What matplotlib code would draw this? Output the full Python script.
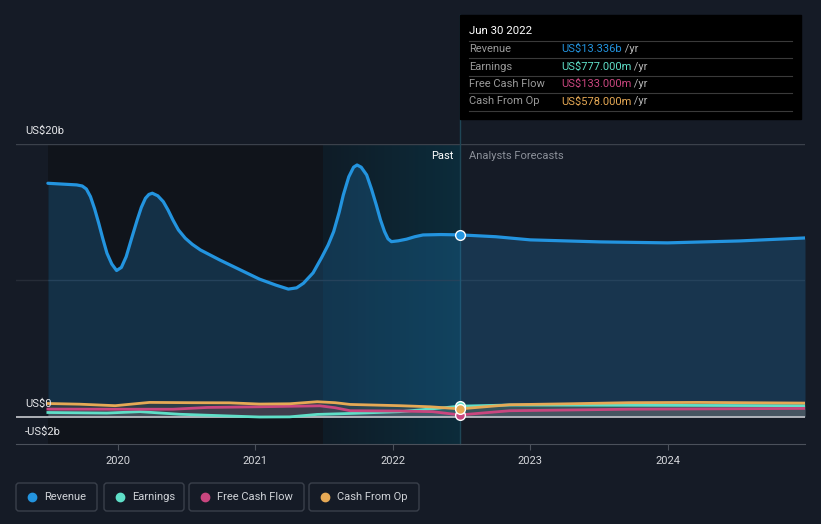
import numpy as np
import matplotlib
matplotlib.use('Agg')
import matplotlib.pyplot as plt
from matplotlib.patches import FancyBboxPatch, Rectangle
from matplotlib.colors import LinearSegmentedColormap

plt.rcParams['font.family'] = ['Roboto', 'DejaVu Sans']

# values in US$ billions, time in decimal years
rev_t = [2019.49, 2019.70, 2019.74, 2019.77, 2019.80, 2019.83, 2019.86, 2019.89, 2019.92, 2019.955,
         2019.99, 2020.025, 2020.06, 2020.10, 2020.14, 2020.17, 2020.20, 2020.225, 2020.25, 2020.29,
         2020.33, 2020.365, 2020.40, 2020.44, 2020.49, 2020.54, 2020.60, 2020.74, 2020.89, 2021.03,
         2021.15, 2021.24, 2021.30, 2021.35, 2021.42, 2021.48, 2021.53, 2021.57, 2021.61, 2021.64,
         2021.68, 2021.715, 2021.74, 2021.77, 2021.81, 2021.845, 2021.88, 2021.91, 2021.94, 2021.965,
         2021.99, 2022.04, 2022.10, 2022.16, 2022.22, 2022.35, 2022.49,
         2022.75, 2023.00, 2023.51, 2024.00, 2024.52, 2025.00]
rev_v = [17.12, 17.00, 16.92, 16.70, 16.14, 15.25, 14.19, 13.05, 11.99, 11.20,
         10.72, 10.95, 11.74, 13.10, 14.43, 15.35, 16.02, 16.30, 16.39, 16.20,
         15.77, 15.15, 14.43, 13.70, 13.09, 12.65, 12.23, 11.50, 10.77, 10.09,
         9.65, 9.36, 9.45, 9.79, 10.55, 11.63, 12.60, 13.58, 15.00, 16.26,
         17.60, 18.30, 18.46, 18.30, 17.73, 16.70, 15.53, 14.45, 13.58, 13.05,
         12.84, 12.90, 13.02, 13.20, 13.33, 13.36, 13.336,
         13.20, 12.97, 12.82, 12.75, 12.89, 13.11]

cfo_t = [2019.49, 2019.72, 2019.98, 2020.23, 2020.52, 2020.81, 2021.03, 2021.25, 2021.45, 2021.58,
         2021.69, 2022.05, 2022.27, 2022.49, 2022.85, 2023.29, 2023.72, 2024.23, 2025.00]
cfo_v = [0.97, 0.92, 0.81, 1.05, 1.03, 1.02, 0.93, 0.95, 1.10, 1.03,
         0.90, 0.81, 0.73, 0.578, 0.88, 0.95, 1.03, 1.05, 1.00]

fcf_t = [2019.49, 2019.94, 2020.40, 2020.65, 2021.03, 2021.47, 2021.58, 2021.69, 2022.05, 2022.29,
         2022.49, 2022.85, 2023.72, 2025.00]
fcf_v = [0.56, 0.55, 0.55, 0.68, 0.73, 0.80, 0.66, 0.44, 0.42, 0.37,
         0.133, 0.44, 0.55, 0.61]

earn_t = [2019.49, 2019.92, 2020.16, 2020.45, 2020.65, 2021.03, 2021.25, 2021.45, 2021.69, 2022.05,
          2022.32, 2022.49, 2022.85, 2023.72, 2025.00]
earn_v = [0.31, 0.27, 0.37, 0.18, 0.11, -0.02, -0.01, 0.17, 0.24, 0.37,
          0.61, 0.777, 0.86, 0.84, 0.81]

now_t = 2022.49
past_start = 2021.49
series_names = ['Revenue', 'Earnings', 'Free Cash Flow', 'Cash From Op']
tip_values = ['US$13.336b', 'US$777.000m', 'US$133.000m', 'US$578.000m']
year_ticks = [2020, 2021, 2022, 2023, 2024]

BG = '#151b26'
C_REV = '#2394df'
C_EARN = '#5fdfc8'
C_FCF = '#c9467f'
C_CFO = '#e6a955'

fig = plt.figure(figsize=(8.21, 5.24), dpi=100)
fig.patch.set_facecolor(BG)
ax = fig.add_axes([16 / 821, 80 / 524, 789 / 821, 300 / 524])
ax.set_facecolor(BG)
ax.set_xlim(2019.258, 2025.0)
ax.set_ylim(-2, 20)

# background bands
ax.axvspan(rev_t[0], past_start, color='#10141b', zorder=0, lw=0)
grad = LinearSegmentedColormap.from_list('g', ['#0f1c27', '#0c2c3b'])
ax.imshow(np.linspace(0, 1, 200).reshape(1, -1), cmap=grad, aspect='auto',
          extent=[past_start, now_t, -2, 20], zorder=0.5)

# gridlines
ax.axhline(20, color='#3b414b', lw=1, zorder=1)
ax.axhline(10, color='#262c37', lw=1, zorder=1)
ax.axhline(0, color='#b9bcc2', lw=1.3, zorder=4)
ax.axvline(now_t, ymin=0, ymax=(444 - 15) / 300, color='#1f4656', lw=1, zorder=1, clip_on=False)

# fills
ax.fill_between(rev_t, rev_v, 0, color=C_REV, alpha=0.22, lw=0, zorder=2)
for t, v, c in [(cfo_t, cfo_v, C_CFO), (fcf_t, fcf_v, C_FCF), (earn_t, earn_v, C_EARN)]:
    ax.fill_between(t, v, 0, color=c, alpha=0.12, lw=0, zorder=2)

# lines
ax.plot(rev_t, rev_v, color=C_REV, lw=2.3, zorder=5, solid_capstyle='round', solid_joinstyle='round')
ax.plot(earn_t, earn_v, color=C_EARN, lw=2, zorder=5, solid_joinstyle='round')
ax.plot(fcf_t, fcf_v, color=C_FCF, lw=2, zorder=5, solid_joinstyle='round')
ax.plot(cfo_t, cfo_v, color=C_CFO, lw=2, zorder=5, solid_joinstyle='round')

# markers at the current date
for t, v, c in [(rev_t, rev_v, C_REV), (earn_t, earn_v, C_EARN), (fcf_t, fcf_v, C_FCF), (cfo_t, cfo_v, C_CFO)]:
    i = t.index(now_t)
    ax.plot(t[i], v[i], 'o', ms=7, mfc=c, mec='white', mew=1, zorder=6)

# axes styling
for s in ['top', 'right', 'left']:
    ax.spines[s].set_visible(False)
ax.spines['bottom'].set_color('#4b515b')
ax.set_yticks([])
ax.set_xticks(year_ticks)
ax.set_xticklabels([str(y) for y in year_ticks])
ax.tick_params(axis='x', colors='#4b515b', labelcolor='#d5d7db', labelsize=8, length=4, pad=5)

# overlay in pixel coordinates
ov = fig.add_axes([0, 0, 1, 1], facecolor='none')
ov.set_xlim(0, 821)
ov.set_ylim(524, 0)
ov.axis('off')

ov.text(25, 131, 'US$20b', color='#e6e7ea', fontsize=8, va='center')
ov.text(25, 404, 'US$0', color='#e6e7ea', fontsize=8, va='center')
ov.text(25, 432, '-US$2b', color='#e6e7ea', fontsize=8, va='center')
ov.text(453, 156, 'Past', color='#ffffff', fontsize=8, va='center', ha='right')
ov.text(469, 156, 'Analysts Forecasts', color='#8b9099', fontsize=8, va='center')

# tooltip
ov.add_patch(Rectangle((460, 15), 341, 104, color='#000000', zorder=5))
ov.text(469, 31, 'Jun 30 2022', color='#ffffff', fontsize=8.2, va='center', zorder=6)
tip_colors = [C_REV, C_EARN, C_FCF, C_CFO]
for k in range(4):
    yy = 49 + k * 17.5
    ov.plot([469, 792], [yy - 8.5, yy - 8.5], color='#3a3a3a', lw=0.8, zorder=6)
    ov.text(469, yy, series_names[k], color='#9a9a9a', fontsize=8, va='center', zorder=6)
    tx = ov.text(561, yy, tip_values[k], color=tip_colors[k], fontsize=8, va='center', zorder=6)
    ov.annotate(' /yr', xycoords=tx, xy=(1, 0.5), va='center', color='#b5b5b5', fontsize=8, zorder=6)
ov.plot([469, 792], [111, 111], color='#3a3a3a', lw=0.8, zorder=6)

# legend
boxes = [(16, 97), (104, 184), (189, 304), (309, 419)]
for k, (x0, x1) in enumerate(boxes):
    ov.add_patch(FancyBboxPatch((x0, 483), x1 - x0, 28, boxstyle='round,pad=0,rounding_size=3',
                                fc='none', ec='#3a404b', lw=1))
    ov.plot(x0 + 16, 497, 'o', ms=6, color=tip_colors[k])
    ov.text(x0 + 28, 497, series_names[k], color='#d0d3d8', fontsize=8, va='center')

fig.savefig('out.png', dpi=100, facecolor=BG)
